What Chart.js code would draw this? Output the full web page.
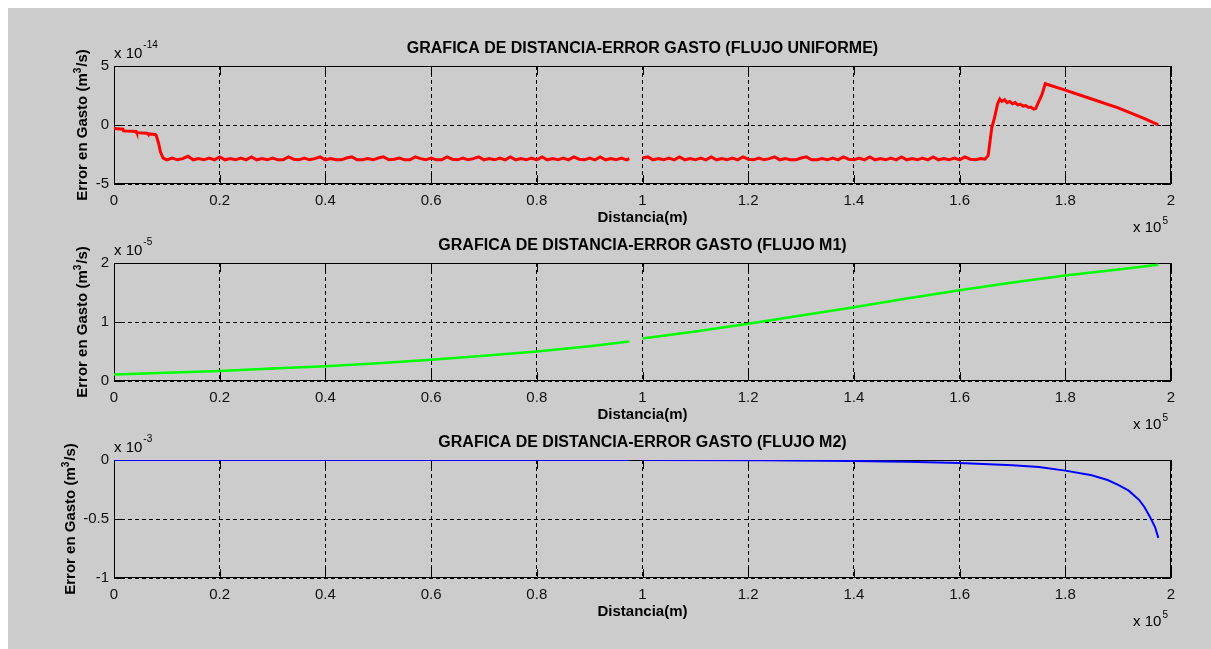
<!DOCTYPE html>
<html>
<head>
<meta charset="utf-8">
<script src="https://cdn.jsdelivr.net/npm/chart.js@4/dist/chart.umd.min.js"></script>
<style>
  html, body { margin: 0; padding: 0; background: #ffffff; }
  body { width: 1211px; height: 649px; position: relative; overflow: hidden; }
  #figura { position: absolute; left: 8px; top: 8px; width: 1203px; height: 641px; background: #cccccc; }
  canvas { position: absolute; left: 0; }
</style>
</head>
<body>
<div id="figura"></div>
<canvas id="c1" width="1211" height="245" style="top:0px"></canvas>
<canvas id="c2" width="1211" height="245" style="top:197px"></canvas>
<canvas id="c3" width="1211" height="255" style="top:394px"></canvas>
<script>
// Distancia en unidades de 1e5 m; error en gasto en unidades del exponente de cada gráfica.

// ---- Flujo uniforme (x 1e-14) ----
const uniformeInicioX = [0, 0.017, 0.018, 0.042, 0.043, 0.063, 0.064, 0.078, 0.08, 0.084, 0.088, 0.093];
const uniformeInicioY = [-0.3, -0.35, -0.5, -0.55, -0.65, -0.7, -0.75, -0.8, -0.9, -1.5, -2.3, -2.8];

const uniformeTramo1X = [0.10, 0.11, 0.12, 0.13, 0.14, 0.15, 0.16, 0.17, 0.18, 0.19,
  0.20, 0.21, 0.22, 0.23, 0.24, 0.25, 0.26, 0.27, 0.28, 0.29,
  0.30, 0.31, 0.32, 0.33, 0.34, 0.35, 0.36, 0.37, 0.38, 0.39,
  0.40, 0.41, 0.42, 0.43, 0.44, 0.45, 0.46, 0.47, 0.48, 0.49,
  0.50, 0.51, 0.52, 0.53, 0.54, 0.55, 0.56, 0.57, 0.58, 0.59,
  0.60, 0.61, 0.62, 0.63, 0.64, 0.65, 0.66, 0.67, 0.68, 0.69,
  0.70, 0.71, 0.72, 0.73, 0.74, 0.75, 0.76, 0.77, 0.78, 0.79,
  0.80, 0.81, 0.82, 0.83, 0.84, 0.85, 0.86, 0.87, 0.88, 0.89,
  0.90, 0.91, 0.92, 0.93, 0.94, 0.95, 0.96, 0.97, 0.975];
const uniformeTramo1Y = [-2.95, -2.8, -2.95, -2.85, -2.65, -2.95, -2.85, -2.95, -2.8, -2.95,
  -2.7, -2.95, -2.85, -2.95, -2.8, -2.95, -2.7, -2.95, -2.85, -2.95,
  -2.8, -2.95, -2.95, -2.7, -2.9, -2.95, -2.8, -2.95, -2.85, -2.7,
  -2.95, -2.85, -2.95, -2.95, -2.8, -2.7, -2.95, -2.95, -2.85, -2.95,
  -2.8, -2.7, -2.95, -2.9, -2.8, -2.95, -2.95, -2.7, -2.85, -2.95,
  -2.8, -2.95, -2.95, -2.7, -2.9, -2.95, -2.8, -2.95, -2.85, -2.7,
  -2.95, -2.85, -2.95, -2.8, -2.95, -2.7, -2.95, -2.85, -2.95, -2.8,
  -2.95, -2.7, -2.95, -2.85, -2.95, -2.8, -2.95, -2.7, -2.9, -2.95,
  -2.8, -2.95, -2.7, -2.95, -2.85, -2.95, -2.8, -2.95, -2.85];

const corteX = [0.988];
const corteY = [null];

const uniformeTramo2X = [1.00, 1.01, 1.02, 1.03, 1.04, 1.05, 1.06, 1.07, 1.08, 1.09,
  1.10, 1.11, 1.12, 1.13, 1.14, 1.15, 1.16, 1.17, 1.18, 1.19,
  1.20, 1.21, 1.22, 1.23, 1.24, 1.25, 1.26, 1.27, 1.28, 1.29,
  1.30, 1.31, 1.32, 1.33, 1.34, 1.35, 1.36, 1.37, 1.38, 1.39,
  1.40, 1.41, 1.42, 1.43, 1.44, 1.45, 1.46, 1.47, 1.48, 1.49,
  1.50, 1.51, 1.52, 1.53, 1.54, 1.55, 1.56, 1.57, 1.58, 1.59,
  1.60, 1.61, 1.62, 1.63, 1.64];
const uniformeTramo2Y = [-2.8, -2.7, -2.95, -2.85, -2.95, -2.8, -2.95, -2.7, -2.95, -2.85,
  -2.95, -2.8, -2.95, -2.7, -2.95, -2.85, -2.95, -2.8, -2.95, -2.7,
  -2.9, -2.95, -2.8, -2.95, -2.85, -2.7, -2.95, -2.85, -2.95, -2.95,
  -2.8, -2.7, -2.95, -2.95, -2.85, -2.95, -2.8, -2.95, -2.7, -2.9,
  -2.95, -2.8, -2.95, -2.7, -2.95, -2.85, -2.95, -2.8, -2.95, -2.7,
  -2.95, -2.85, -2.95, -2.8, -2.95, -2.7, -2.95, -2.85, -2.95, -2.8,
  -2.95, -2.7, -2.9, -2.95, -2.85];

const uniformeFinalX = [1.648, 1.654, 1.661, 1.666, 1.672, 1.676, 1.68, 1.685, 1.69, 1.695,
  1.70, 1.705, 1.71, 1.715, 1.72, 1.725, 1.73, 1.735, 1.74, 1.744,
  1.75, 1.756, 1.762, 1.8, 1.85, 1.9, 1.95, 1.976];
const uniformeFinalY = [-2.9, -2.6, -0.2, 0.6, 1.8, 2.2, 2.0, 2.15, 1.9, 2.0,
  1.8, 1.9, 1.7, 1.75, 1.6, 1.65, 1.5, 1.5, 1.35, 1.4,
  2.0, 2.6, 3.5, 2.95, 2.2, 1.45, 0.55, 0.02];

const distanciaUniforme = [].concat(uniformeInicioX, uniformeTramo1X, corteX, uniformeTramo2X, uniformeFinalX);
const errorUniforme = [].concat(uniformeInicioY, uniformeTramo1Y, corteY, uniformeTramo2Y, uniformeFinalY);

// ---- Flujo M1 (x 1e-5) ----
const distanciaM1 = [0, 0.1, 0.2, 0.3, 0.4, 0.5, 0.6, 0.7, 0.8, 0.9, 0.975, 0.988,
  1.0, 1.1, 1.2, 1.3, 1.4, 1.5, 1.6, 1.7, 1.8, 1.9, 1.976];
const errorM1 = [0.11, 0.14, 0.17, 0.21, 0.25, 0.3, 0.36, 0.43, 0.5, 0.59, 0.67, null,
  0.72, 0.84, 0.97, 1.11, 1.25, 1.4, 1.54, 1.67, 1.79, 1.89, 1.97];

// ---- Flujo M2 (x 1e-3) ----
const distanciaM2 = [0, 0.975, 0.988, 1.0, 1.22, 1.4, 1.46, 1.5, 1.6, 1.7, 1.75, 1.8,
  1.85, 1.88, 1.9, 1.92, 1.94, 1.95, 1.96, 1.97, 1.976];
const errorM2 = [0, 0, null, 0, -0.003, -0.008, -0.012, -0.015, -0.025, -0.045, -0.06, -0.09,
  -0.13, -0.17, -0.21, -0.26, -0.34, -0.40, -0.48, -0.57, -0.66];

// ---- Ejes y textos ----
const distanciaTicks = { min: 0, max: 2, step: 0.2 };
const titulos = [
  'GRAFICA DE DISTANCIA-ERROR GASTO (FLUJO UNIFORME)',
  'GRAFICA DE DISTANCIA-ERROR GASTO (FLUJO M1)',
  'GRAFICA DE DISTANCIA-ERROR GASTO (FLUJO M2)'
];
const exponentes = ['-14', '-5', '-3'];
const rangosY = [
  { min: -5, max: 5, step: 5 },
  { min: 0, max: 2, step: 1 },
  { min: -1, max: 0, step: 0.5 }
];
const etiquetaX = 'Distancia(m)';
const etiquetaY = ['Error en Gasto (m', '3', '/s)'];
const exponenteX = '5';

const FUENTE = "'Liberation Sans', Arial, Helvetica, sans-serif";

function fmt(v) { return String(Number(v.toFixed(3))); }

// Caja, marcas interiores y textos de cada subgráfica
const marcoMatlab = {
  id: 'marcoMatlab',
  beforeDatasetsDraw(chart, args, o) {
    const { ctx, chartArea: a } = chart;
    const xs = chart.scales.x, ys = chart.scales.y;
    const L = 9;
    ctx.save();
    ctx.setLineDash([]);
    ctx.strokeStyle = '#000';
    ctx.lineWidth = 1;
    ctx.beginPath();
    xs.ticks.forEach(t => {
      const p = Math.round(xs.getPixelForValue(t.value)) + 0.5;
      ctx.moveTo(p, a.bottom); ctx.lineTo(p, a.bottom - L);
      ctx.moveTo(p, a.top); ctx.lineTo(p, a.top + L);
    });
    ys.ticks.forEach(t => {
      const p = Math.round(ys.getPixelForValue(t.value)) + 0.5;
      ctx.moveTo(a.left, p); ctx.lineTo(a.left + L, p);
      ctx.moveTo(a.right, p); ctx.lineTo(a.right - L, p);
    });
    ctx.stroke();
    ctx.strokeRect(a.left + 0.5, a.top + 0.5, a.width - 1, a.height - 1);
    ctx.restore();
  },
  afterDraw(chart, args, o) {
    const { ctx, chartArea: a } = chart;
    const cx = (a.left + a.right) / 2;
    ctx.save();
    ctx.fillStyle = '#000';
    ctx.textBaseline = 'alphabetic';

    // título
    ctx.font = 'bold 16px ' + FUENTE;
    ctx.textAlign = 'center';
    ctx.fillText(o.titulo, cx, a.top - 13);

    // multiplicador del eje y
    ctx.textAlign = 'left';
    ctx.font = '15px ' + FUENTE;
    ctx.fillText('x 10', a.left, a.top - 8);
    const w10 = ctx.measureText('x 10').width;
    ctx.font = '10px ' + FUENTE;
    ctx.fillText(o.exponente, a.left + w10 + 1, a.top - 18);

    // etiqueta del eje x
    ctx.font = 'bold 15px ' + FUENTE;
    ctx.textAlign = 'center';
    ctx.fillText(etiquetaX, cx, a.bottom + 38);

    // multiplicador del eje x
    ctx.font = '10px ' + FUENTE;
    const w5 = ctx.measureText(exponenteX).width;
    ctx.textAlign = 'right';
    ctx.fillText(exponenteX, a.right - 3, a.bottom + 40);
    ctx.font = '15px ' + FUENTE;
    ctx.fillText('x 10', a.right - 3 - w5 - 1, a.bottom + 48);

    // etiqueta del eje y (rotada, con superíndice)
    ctx.translate(o.ejeYx, (a.top + a.bottom) / 2);
    ctx.rotate(-Math.PI / 2);
    ctx.textAlign = 'left';
    ctx.font = 'bold 15px ' + FUENTE;
    const p1 = ctx.measureText(etiquetaY[0]).width;
    const p3 = ctx.measureText(etiquetaY[2]).width;
    ctx.font = 'bold 10px ' + FUENTE;
    const p2 = ctx.measureText(etiquetaY[1]).width;
    let x = -(p1 + p2 + p3 + 1) / 2;
    ctx.font = 'bold 15px ' + FUENTE;
    ctx.fillText(etiquetaY[0], x, 0);
    x += p1;
    ctx.font = 'bold 10px ' + FUENTE;
    ctx.fillText(etiquetaY[1], x, -6);
    x += p2 + 1;
    ctx.font = 'bold 15px ' + FUENTE;
    ctx.fillText(etiquetaY[2], x, 0);
    ctx.restore();
  }
};

function grafica(id, xs, ys, color, ancho, rango, titulo, exponente, ejeYx) {
  const canvas = document.getElementById(id);
  const H = canvas.height;
  const altoEjeX = 34;
  const datos = xs.map((x, i) => ({ x: x, y: ys[i] }));
  return new Chart(canvas, {
    type: 'line',
    data: {
      datasets: [{
        data: datos,
        borderColor: color,
        borderWidth: ancho,
        pointRadius: 0,
        tension: 0,
        spanGaps: false,
        fill: false
      }]
    },
    options: {
      responsive: false,
      animation: false,
      events: [],
      layout: { autoPadding: false, padding: { top: 66, left: 0, right: 40, bottom: H - 184 - altoEjeX } },
      plugins: {
        legend: { display: false },
        tooltip: { enabled: false },
        marcoMatlab: { titulo: titulo, exponente: exponente, ejeYx: ejeYx }
      },
      scales: {
        x: {
          type: 'linear',
          min: distanciaTicks.min,
          max: distanciaTicks.max,
          afterFit(s) { s.height = altoEjeX; },
          grid: { color: '#000', lineWidth: 1, drawTicks: false },
          border: { display: false, dash: [4, 3] },
          ticks: {
            stepSize: distanciaTicks.step,
            padding: 8,
            color: '#111',
            font: { family: FUENTE, size: 15 },
            maxRotation: 0,
            autoSkip: false,
            callback: v => fmt(v)
          }
        },
        y: {
          type: 'linear',
          min: rango.min,
          max: rango.max,
          afterFit(s) { s.width = 114; },
          grid: { color: '#000', lineWidth: 1, drawTicks: false },
          border: { display: false, dash: [4, 3] },
          ticks: {
            stepSize: rango.step,
            padding: 5,
            color: '#111',
            font: { family: FUENTE, size: 15 },
            autoSkip: false,
            callback: v => fmt(v)
          }
        }
      }
    },
    plugins: [marcoMatlab]
  });
}

grafica('c1', distanciaUniforme, errorUniforme, '#ff0000', 3, rangosY[0], titulos[0], exponentes[0], 87);
grafica('c2', distanciaM1, errorM1, '#00ff00', 2.5, rangosY[1], titulos[1], exponentes[1], 87);
grafica('c3', distanciaM2, errorM2, '#0000ff', 2, rangosY[2], titulos[2], exponentes[2], 75);
</script>
</body>
</html>
